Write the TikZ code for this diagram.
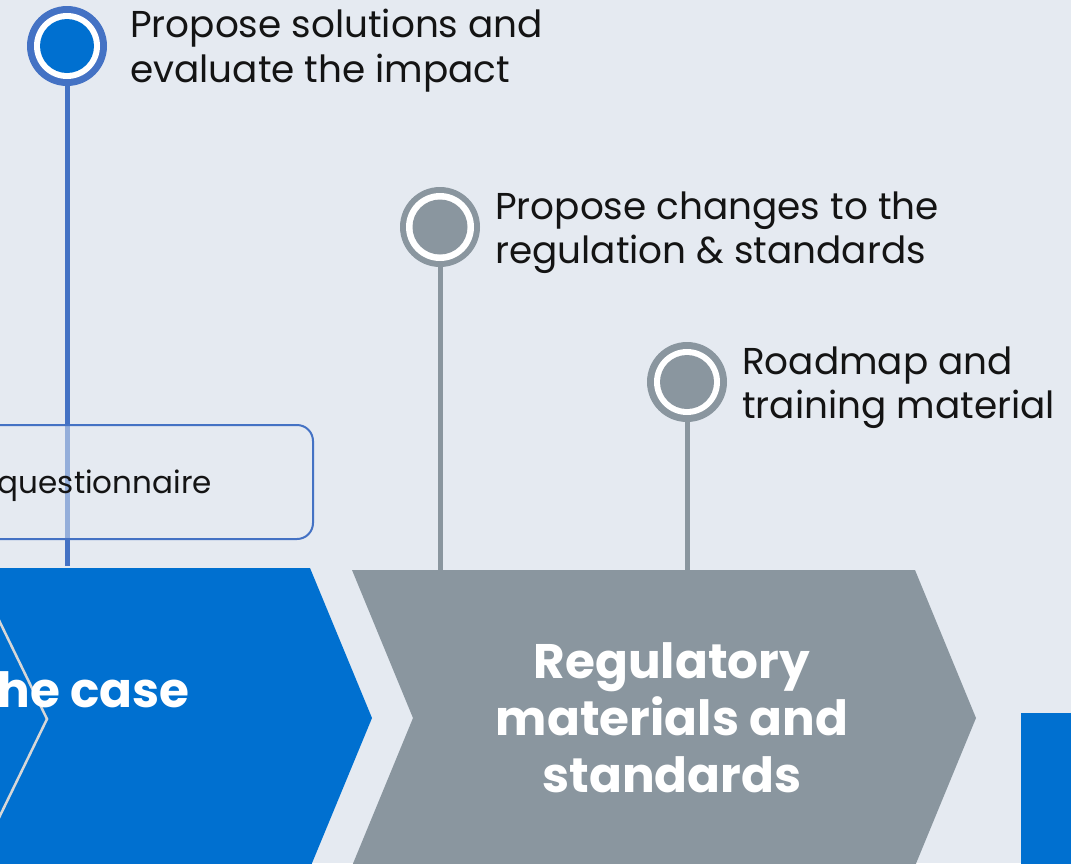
\documentclass[tikz,border=0pt]{standalone}
\usepackage{fontspec}
\setmainfont{Poppins}
\definecolor{bgc}{RGB}{229,234,241}
\definecolor{blueA}{RGB}{0,112,208}
\definecolor{ringB}{RGB}{68,114,196}
\definecolor{greyA}{RGB}{138,150,159}
\definecolor{txt}{RGB}{20,20,20}
\definecolor{outl}{RGB}{215,215,215}
\tikzset{
  ringnode/.style={circle, fill=#1, minimum size=80pt, inner sep=0pt},
  stem/.style={line width=5pt, draw=#1},
  lbl/.style={anchor=base west, inner sep=0pt, text=txt, font=\fontsize{37.4}{45}\selectfont},
  chevtxt/.style={anchor=base, inner sep=0pt, text=white, font=\fontsize{48.5}{57}\selectfont\bfseries},
}
\begin{document}
\begin{tikzpicture}[x=1pt,y=-1pt]
\fill[bgc] (0,0) rectangle (1071,863);
\useasboundingbox (0,0) rectangle (1071,863);

% circles (nodes)
\node[ringnode=ringB] (c1) at (67,46) {};
\node[ringnode=greyA] (c2) at (440,227) {};
\node[ringnode=greyA] (c3) at (687,382) {};

% connector ends
\coordinate (e1) at (67,566);
\coordinate (e2) at (440,572);
\coordinate (e3) at (687,572);

% stems
\draw[stem=ringB] (c1.south) -- (e1);
\draw[stem=greyA] (c2.south) -- (e2);
\draw[stem=greyA] (c3.south) -- (e3);

% circle inner rings
\fill[white] (c1) circle (33);
\fill[blueA] (c1) circle (27);
\fill[white] (c2) circle (34);
\fill[greyA] (c2) circle (27.5);
\fill[white] (c3) circle (33);
\fill[greyA] (c3) circle (27);

% rounded box
\node[draw=ringB, line width=2pt, fill=bgc, fill opacity=0.5, rounded corners=16pt,
      minimum width=353pt, minimum height=114pt, inner sep=0pt] (qbox) at (136.5,482) {};
\node[anchor=base east, inner sep=0pt, text=txt, font=\fontsize{31}{36}\selectfont] (qtxt) at (212,493) {questionnaire};

% blue chevron
\fill[blueA] (-10,568) -- (310,568) -- (372,718) -- (310,868) -- (-10,868) -- cycle;
\draw[outl, line width=2.5pt] (-5,612) -- (47,719) -- (-5,826);
\node[chevtxt, anchor=base east] (t1) at (190,707) {he case};

% grey chevron
\fill[greyA] (352,570) -- (915,570) -- (976,718) -- (915,866) -- (352,866) -- (413,718) -- cycle;
\node[chevtxt] (t2a) at (672,678) {Regulatory};
\node[chevtxt] (t2b) at (672,735) {materials and};
\node[chevtxt] (t2c) at (672,792) {standards};

% blue rectangle
\fill[blueA] (1021,713) rectangle (1080,870);

% labels
\node[lbl] (l1a) at (130,37) {Propose solutions and};
\node[lbl] (l1b) at (130,82) {evaluate the impact};
\node[lbl] (l2a) at (495,219) {Propose changes to the};
\node[lbl] (l2b) at (495,263) {regulation \& standards};
\node[lbl] (l3a) at (742,374) {Roadmap and};
\node[lbl] (l3b) at (742,418) {training material};
\end{tikzpicture}
\end{document}
